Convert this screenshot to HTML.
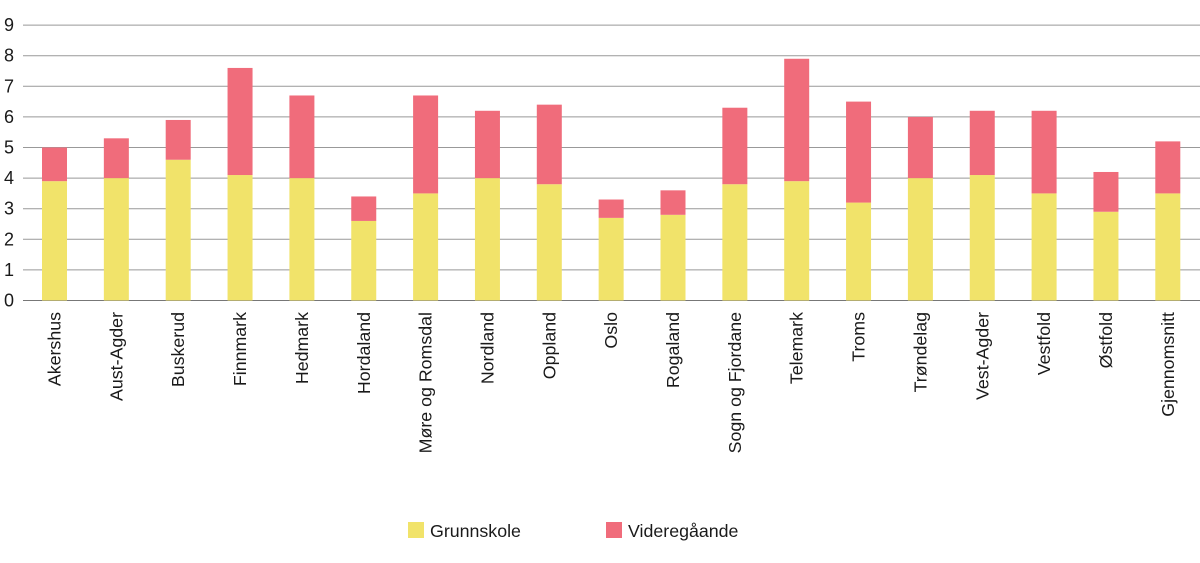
<!DOCTYPE html>
<html><head><meta charset="utf-8"><style>
body{margin:0;background:#fff;font-family:"Liberation Sans",sans-serif}
svg text{font-family:"Liberation Sans",sans-serif;fill:#1a1a1a}
</style></head><body>
<svg id="c" width="1200" height="558"></svg>
<script>
const categories=["Akershus","Aust-Agder","Buskerud","Finnmark","Hedmark","Hordaland","Møre og Romsdal","Nordland","Oppland","Oslo","Rogaland","Sogn og Fjordane","Telemark","Troms","Trøndelag","Vest-Agder","Vestfold","Østfold","Gjennomsnitt"];
const grunnskole=[3.9,4.0,4.6,4.1,4.0,2.6,3.5,4.0,3.8,2.7,2.8,3.8,3.9,3.2,4.0,4.1,3.5,2.9,3.5];
const videregaande=[1.1,1.3,1.3,3.5,2.7,0.8,3.2,2.2,2.6,0.6,0.8,2.5,4.0,3.3,2.0,2.1,2.7,1.3,1.7];
const yTicks=[0,1,2,3,4,5,6,7,8,9];
const NS="http://www.w3.org/2000/svg";
const svg=document.getElementById('c');
const y0=300.5,unit=30.6,x0=54.5,step=61.85,bw=25;
const y=v=>y0-v*unit, x=i=>x0+i*step;
function mk(t,a,p){const e=document.createElementNS(NS,t);for(const k in a)e.setAttribute(k,a[k]);(p||svg).appendChild(e);return e;}
const grid=mk('g',{});


yTicks.forEach(t=>{
 const l=mk('line',{x1:23,x2:1200,y1:y(t),y2:y(t),stroke:t===0?'#777':'#999','stroke-width':1},grid);
 
 
 const tx=mk('text',{x:4,y:y(t)+6,'font-size':18});
 tx.textContent=t;
 
 
});
categories.forEach((c,i)=>{
 const g=grunnskole[i],v=videregaande[i];
 const r1=mk('rect',{x:x(i)-bw/2,y:y(g),width:bw,height:g*unit,fill:'#f1e36a'});
 
 
 const r2=mk('rect',{x:x(i)-bw/2,y:y(g+v),width:bw,height:v*unit,fill:'#f06c7b'});
 
 
 const t=mk('text',{x:0,y:0,'font-size':17.8,'text-anchor':'end',transform:`translate(${x(i)+6},312) rotate(-90)`});
 t.textContent=c;
 
 
});
const lg=mk('g',{});


[[408,'#f1e36a','Grunnskole'],[606,'#f06c7b','Videregåande']].forEach(([lx,col,lab])=>{
 const r=mk('rect',{x:lx,y:522,width:16,height:16,fill:col},lg);
 
 
 const t=mk('text',{x:lx+22,y:537,'font-size':17.8},lg);
 t.textContent=lab;
 
 
});
</script>
</body></html>
